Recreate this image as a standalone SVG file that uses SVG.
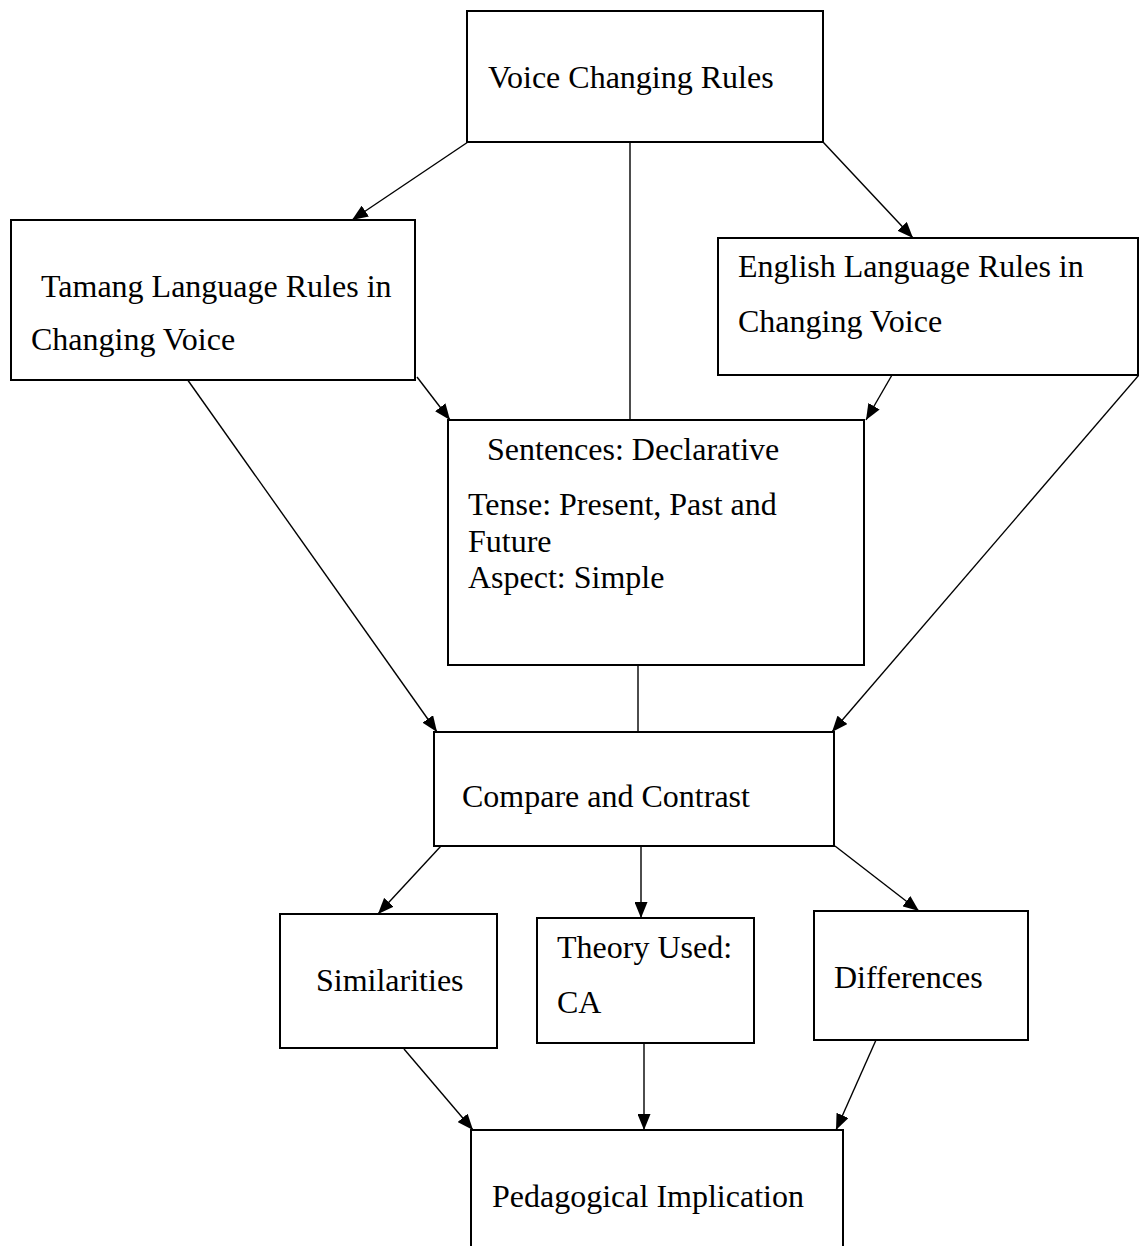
<svg xmlns="http://www.w3.org/2000/svg" width="1139" height="1246" viewBox="0 0 1139 1246">
<style>
.box{fill:#fff;stroke:#000;stroke-width:2}
.t{font-family:"Liberation Serif","Times New Roman",serif;font-size:32px;fill:#000}
.c{stroke:#000;stroke-width:1.4;fill:none}
.a{marker-end:url(#arr)}
</style>
<defs>
<marker id="arr" markerUnits="userSpaceOnUse" markerWidth="17" markerHeight="13" refX="16" refY="6.5" orient="auto">
<path d="M0,0 L16,6.5 L0,13 z" fill="#000"/>
</marker>
</defs>
<rect width="1139" height="1246" fill="#fff"/>
<g id="connectors">
<line class="c a" x1="468" y1="142" x2="352" y2="220"/>
<line class="c a" x1="823" y1="142" x2="913" y2="238"/>
<line class="c" x1="630" y1="142" x2="630" y2="420"/>
<line class="c a" x1="417" y1="377" x2="450" y2="420"/>
<line class="c a" x1="892" y1="375" x2="866" y2="420"/>
<line class="c a" x1="187" y1="379" x2="437" y2="732"/>
<line class="c a" x1="1139" y1="375" x2="832" y2="732"/>
<line class="c" x1="638" y1="665" x2="638" y2="732"/>
<line class="c a" x1="441" y1="846" x2="378" y2="914"/>
<line class="c a" x1="641" y1="846" x2="641" y2="918"/>
<line class="c a" x1="835" y1="846" x2="919" y2="911"/>
<line class="c a" x1="404" y1="1049" x2="473" y2="1130"/>
<line class="c a" x1="644" y1="1043" x2="644" y2="1130"/>
<line class="c a" x1="876" y1="1040" x2="836" y2="1130"/>
</g>
<g id="voice">
<rect class="box" x="467" y="11" width="356" height="131"/>
<text class="t" x="488" y="88">Voice Changing Rules</text>
</g>
<g id="tamang">
<rect class="box" x="11" y="220" width="404" height="160"/>
<text class="t" x="41" y="297">Tamang Language Rules in</text>
<text class="t" x="31" y="350">Changing Voice</text>
</g>
<g id="english">
<rect class="box" x="718" y="238" width="420" height="137"/>
<text class="t" x="738" y="277">English Language Rules in</text>
<text class="t" x="738" y="332">Changing Voice</text>
</g>
<g id="sentences">
<rect class="box" x="448" y="420" width="416" height="245"/>
<text class="t" x="487" y="460">Sentences: Declarative</text>
<text class="t" x="468" y="515">Tense: Present, Past and</text>
<text class="t" x="468" y="552">Future</text>
<text class="t" x="468" y="588">Aspect: Simple</text>
</g>
<g id="compare">
<rect class="box" x="434" y="732" width="400" height="114"/>
<text class="t" x="462" y="807">Compare and Contrast</text>
</g>
<g id="similarities">
<rect class="box" x="280" y="914" width="217" height="134"/>
<text class="t" x="316" y="991">Similarities</text>
</g>
<g id="theory">
<rect class="box" x="537" y="918" width="217" height="125"/>
<text class="t" x="557" y="958">Theory Used:</text>
<text class="t" x="557" y="1013">CA</text>
</g>
<g id="differences">
<rect class="box" x="814" y="911" width="214" height="129"/>
<text class="t" x="834" y="988">Differences</text>
</g>
<g id="pedagogical">
<rect class="box" x="471" y="1130" width="372" height="140"/>
<text class="t" x="492" y="1207">Pedagogical Implication</text>
</g>
</svg>
